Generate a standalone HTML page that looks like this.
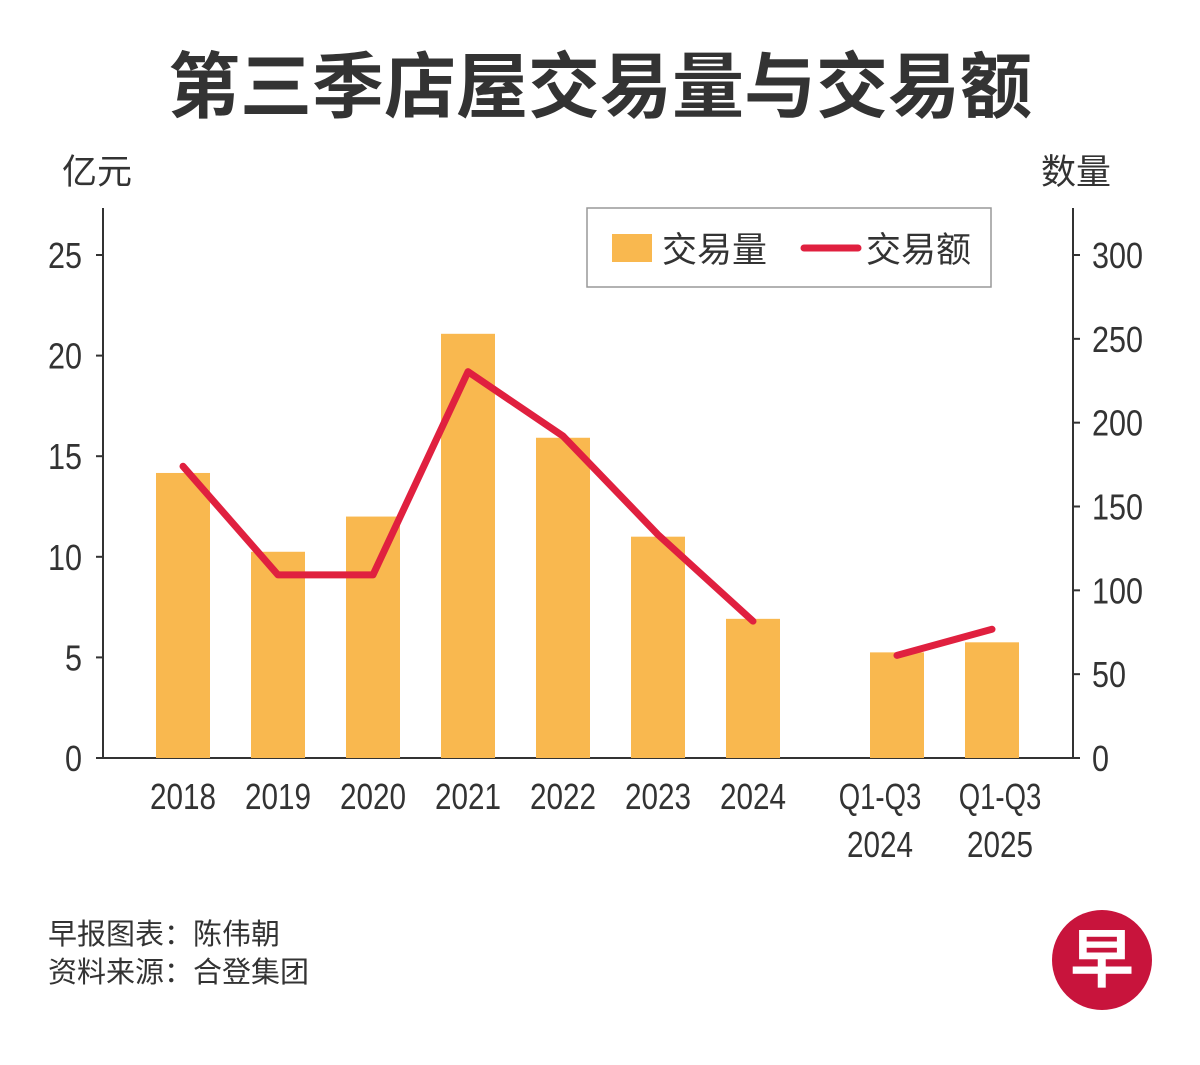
<!DOCTYPE html>
<html><head><meta charset="utf-8">
<style>
html,body{margin:0;padding:0;background:#fff;}
body{width:1200px;height:1060px;overflow:hidden;font-family:"Liberation Sans","Noto Sans CJK SC",sans-serif;}
svg text{font-family:"Liberation Sans","Noto Sans CJK SC",sans-serif;}
</style></head>
<body>
<svg id="chart" width="1200" height="1060" xmlns="http://www.w3.org/2000/svg">
<text x="600" y="112" text-anchor="middle" font-size="72" font-weight="bold" fill="#333">第三季店屋交易量与交易额</text>
<text x="62" y="184" font-size="35" fill="#333">亿元</text>
<text x="1111" y="184" text-anchor="end" font-size="35" fill="#333">数量</text>
<line x1="103" y1="208" x2="103" y2="758" stroke="#333" stroke-width="2"/>
<line x1="1073" y1="208" x2="1073" y2="758" stroke="#333" stroke-width="2"/>
<line x1="103" y1="758" x2="1073" y2="758" stroke="#333" stroke-width="2"/>
<g id="ticks"></g>
<g id="bars"></g>
<g id="lines"></g>
<g id="xlabels"></g>
<g>
<rect x="587" y="208" width="404" height="79" fill="#fff" stroke="#999" stroke-width="1.5"/>
<rect x="612" y="234" width="40" height="28" fill="#f9b84f"/>
<text x="662" y="262" font-size="35" fill="#333">交易量</text>
<line x1="804" y1="248" x2="858" y2="248" stroke="#e0203f" stroke-width="7" stroke-linecap="round"/>
<text x="866" y="262" font-size="35" fill="#333">交易额</text>
</g>
<text x="48" y="944" font-size="29" fill="#333">早报图表：陈伟朝</text>
<text x="48" y="982" font-size="29" fill="#333">资料来源：合登集团</text>
<g>
<circle cx="1102" cy="960" r="50" fill="#c8143c"/>
<text x="1102" y="982" text-anchor="middle" font-size="64" font-weight="bold" fill="#fff">早</text>
</g>
</svg>
<script>
const categories = ["2018","2019","2020","2021","2022","2023","2024","Q1-Q3|2024","Q1-Q3|2025"];
const volume = [170,123,144,253,191,132,83,63,69];
const value = [14.5,9.1,9.1,19.2,16.0,11.1,6.8,5.1,6.4];
const lineSegments = [[0,7],[7,9]];
const leftTicks = [0,5,10,15,20,25];
const rightTicks = [0,50,100,150,200,250,300];

const NS="http://www.w3.org/2000/svg";
const xPos=[183,278,373,468,563,658,753,880,1000];
const barPos=[183,278,373,468,563,658,753,897,992];
const yL=v=>758-v*(503/25);
const yR=v=>758-v*(503/300);
function mk(tag,attrs,parent){const e=document.createElementNS(NS,tag);for(const k in attrs)e.setAttribute(k,attrs[k]);parent.appendChild(e);return e;}
const tg=document.getElementById('ticks');
leftTicks.forEach(t=>{
  const l=mk('line',{x1:96,x2:103,y1:yL(t),y2:yL(t),stroke:'#333','stroke-width':2},tg);
  
  
  const s=String(t);
  const tx=mk('text',{x:82,y:yL(t)+13,'text-anchor':'end','font-size':36,fill:'#333',textLength:s.length*17,lengthAdjust:'spacingAndGlyphs'},tg);
  tx.textContent=s;
  
  
});
rightTicks.forEach(t=>{
  const l=mk('line',{x1:1073,x2:1080,y1:yR(t),y2:yR(t),stroke:'#333','stroke-width':2},tg);
  
  
  const s=String(t);
  const tx=mk('text',{x:1092,y:yR(t)+13,'font-size':36,fill:'#333',textLength:s.length*17,lengthAdjust:'spacingAndGlyphs'},tg);
  tx.textContent=s;
  
  
});
const bg=document.getElementById('bars');
volume.forEach((v,i)=>{
  const r=mk('rect',{x:barPos[i]-27,y:yR(v),width:54,height:758-yR(v),fill:'#f9b84f'},bg);
  
  
});
const lg=document.getElementById('lines');
lineSegments.forEach(([a,b])=>{
  const pts=[];for(let i=a;i<b;i++)pts.push(barPos[i]+','+yL(value[i]));
  const p=mk('polyline',{points:pts.join(' '),fill:'none',stroke:'#e0203f','stroke-width':7,'stroke-linecap':'round','stroke-linejoin':'round'},lg);
  
  
});
const xg=document.getElementById('xlabels');
categories.forEach((c,i)=>{
  c.split('|').forEach((s,j)=>{
    const t=mk('text',{x:xPos[i],y:809+j*48,'text-anchor':'middle','font-size':36,fill:'#333',textLength:s.length*16.5,lengthAdjust:'spacingAndGlyphs'},xg);
    t.textContent=s;
    
    
  });
});
</script>
</body></html>
